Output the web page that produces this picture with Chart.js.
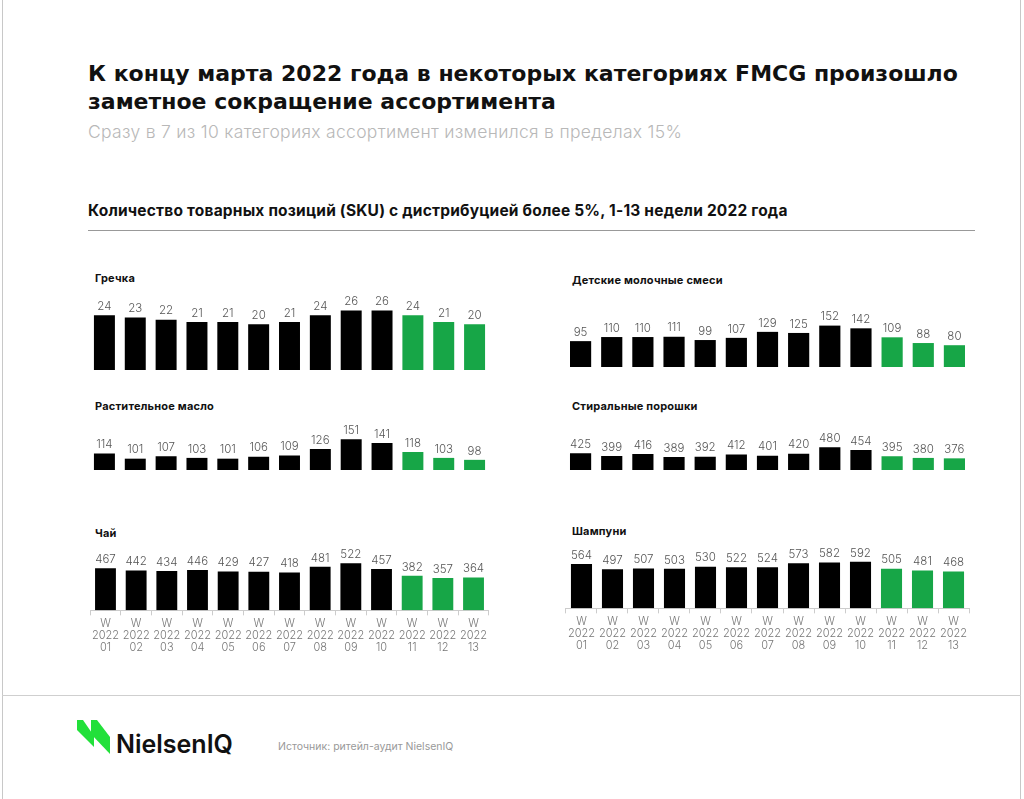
<!DOCTYPE html>
<html lang="ru">
<head>
  <meta charset="UTF-8">
  <title>Сокращение ассортимента FMCG</title>
  <script src="https://cdn.jsdelivr.net/npm/chart.js"></script>
  <style>
    body {
      margin: 0;
      width: 1024px;
      height: 799px;
      background: #fff;
      font-family: 'Inter', 'Noto Sans', sans-serif;
      position: relative;
      overflow: hidden;
    }
    .frame {
      position: absolute;
      left: 2px; top: -2px;
      width: 1017px; height: 810px;
      border-left: 1px solid #c8c8c8;
      border-right: 1px solid #c8c8c8;
    }
    .sep-bottom {
      position: absolute;
      left: 2px; top: 695px;
      width: 1019px;
      border-top: 1px solid #cfcfcf;
    }
    h1 {
      position: absolute;
      left: 88px; top: 60px;
      margin: 0;
      font-family: 'DejaVu Sans', sans-serif;
      font-size: 22px;
      line-height: 28px;
      font-weight: 700;
      color: #111;
      letter-spacing: 0;
    }
    .subtitle {
      position: absolute;
      left: 88px; top: 121px;
      font-size: 17.5px;
      font-weight: 300;
      color: #b8b8b8;
      letter-spacing: 0.3px;
    }
    .section {
      position: absolute;
      left: 88px; top: 201px;
      font-size: 15.5px;
      font-weight: 700;
      color: #111;
      letter-spacing: 0.2px;
    }
    .section-line {
      position: absolute;
      left: 88px; top: 230px;
      width: 887px;
      border-top: 1px solid #999;
    }
    .ctitle {
      position: absolute;
      font-size: 11px;
      font-weight: 700;
      color: #111;
      letter-spacing: 0.2px;
    }
    .box { position: absolute; }
    .logo {
      position: absolute;
      left: 77px; top: 720px;
    }
    .brand {
      position: absolute;
      left: 116px; top: 729px;
      font-size: 25px;
      font-weight: 600;
      color: #111;
    }
    .source {
      position: absolute;
      left: 278px; top: 740px;
      font-size: 10.5px;
      font-weight: 400;
      color: #999;
    }
  </style>
</head>
<body>
  <div class="frame"></div>
  <div class="sep-bottom"></div>

  <h1>К концу марта 2022 года в некоторых категориях FMCG произошло<br>заметное сокращение ассортимента</h1>
  <div class="subtitle">Сразу в 7 из 10 категориях ассортимент изменился в пределах 15%</div>
  <div class="section">Количество товарных позиций (SKU) с дистрибуцией более 5%, 1-13 недели 2022 года</div>
  <div class="section-line"></div>

  <div class="ctitle" style="left:95px; top:271px;">Гречка</div>
  <div class="ctitle" style="left:572px; top:273px;">Детские молочные смеси</div>
  <div class="ctitle" style="left:95px; top:399px;">Растительное масло</div>
  <div class="ctitle" style="left:572px; top:399px;">Стиральные порошки</div>
  <div class="ctitle" style="left:95px; top:526px;">Чай</div>
  <div class="ctitle" style="left:572px; top:524px;">Шампуни</div>

  <div class="box" style="left:89px; top:290px; width:401px; height:80px;"><canvas id="grechka"></canvas></div>
  <div class="box" style="left:565px; top:300px; width:405px; height:67px;"><canvas id="smesi"></canvas></div>
  <div class="box" style="left:89px; top:420px; width:401px; height:50px;"><canvas id="maslo"></canvas></div>
  <div class="box" style="left:565px; top:420px; width:405px; height:50px;"><canvas id="poroshki"></canvas></div>
  <div class="box" style="left:89px; top:545px; width:401px; height:111px;"><canvas id="chai"></canvas></div>
  <div class="box" style="left:565px; top:545px; width:405px; height:109px;"><canvas id="shampuni"></canvas></div>

  <svg class="logo" width="36" height="36" viewBox="0 0 36 36">
    <polygon points="0,0 6,0 17,16 17,27 0,10" fill="#22e03a"/>
    <polygon points="14,0 20,0 33,17 33,34 14,14" fill="#22e03a"/>
  </svg>
  <div class="brand">NielsenIQ</div>
  <div class="source">Источник: ритейл-аудит NielsenIQ</div>

  <script>
    // Недели
    const weeks = ['01', '02', '03', '04', '05', '06', '07', '08', '09', '10', '11', '12', '13'];

    // Значения SKU по категориям
    const grechka = [24, 23, 22, 21, 21, 20, 21, 24, 26, 26, 24, 21, 20];
    const smesi = [95, 110, 110, 111, 99, 107, 129, 125, 152, 142, 109, 88, 80];
    const maslo = [114, 101, 107, 103, 101, 106, 109, 126, 151, 141, 118, 103, 98];
    const poroshki = [425, 399, 416, 389, 392, 412, 401, 420, 480, 454, 395, 380, 376];
    const chai = [467, 442, 434, 446, 429, 427, 418, 481, 522, 457, 382, 357, 364];
    const shampuni = [564, 497, 507, 503, 530, 522, 524, 573, 582, 592, 505, 481, 468];

    // первые 10 недель черные, последние 3 зеленые
    const barColors = weeks.map((w, i) => i < 10 ? '#000000' : '#17a647');

    // подписи значений над столбиками
    const valueLabels = {
      id: 'valueLabels',
      afterDatasetsDraw(chart) {
        const ctx = chart.ctx;
        const meta = chart.getDatasetMeta(0);
        ctx.save();
        ctx.font = '300 11.5px Inter, sans-serif';
        ctx.fillStyle = '#555';
        ctx.textAlign = 'center';
        ctx.textBaseline = 'bottom';
        meta.data.forEach((bar, i) => {
          ctx.fillText(chart.data.datasets[0].data[i], bar.x, bar.y - 3);
        });
        ctx.restore();
      }
    };

    function makeChart(id, values, yMin, yMax, showAxis) {
      new Chart(document.getElementById(id), {
        type: 'bar',
        data: {
          labels: weeks.map(w => ['W', '2022', w]),
          datasets: [{
            data: values,
            backgroundColor: barColors,
            barPercentage: 0.68,
            categoryPercentage: 1
          }]
        },
        options: {
          responsive: true,
          maintainAspectRatio: false,
          animation: false,
          layout: { padding: 0 },
          plugins: {
            legend: { display: false },
            tooltip: { enabled: false }
          },
          scales: {
            x: {
              display: showAxis,
              grid: {
                display: showAxis,
                drawOnChartArea: false,
                color: '#cccccc',
                tickLength: 5
              },
              border: { color: '#cccccc' },
              ticks: {
                color: '#777',
                padding: 3,
                maxRotation: 0,
                font: { family: 'Inter', size: 11, weight: 300, lineHeight: 1.05 }
              }
            },
            y: {
              display: false,
              min: yMin,
              max: yMax
            }
          }
        },
        plugins: [valueLabels]
      });
    }

    makeChart('grechka', grechka, 0, 35, false);
    makeChart('smesi', smesi, 0, 246, false);
    makeChart('maslo', maslo, 72, 200, false);
    makeChart('poroshki', poroshki, 266, 738, false);
    makeChart('chai', chai, 0, 723, true);
    makeChart('shampuni', shampuni, 0, 806, true);
  </script>
</body>
</html>
